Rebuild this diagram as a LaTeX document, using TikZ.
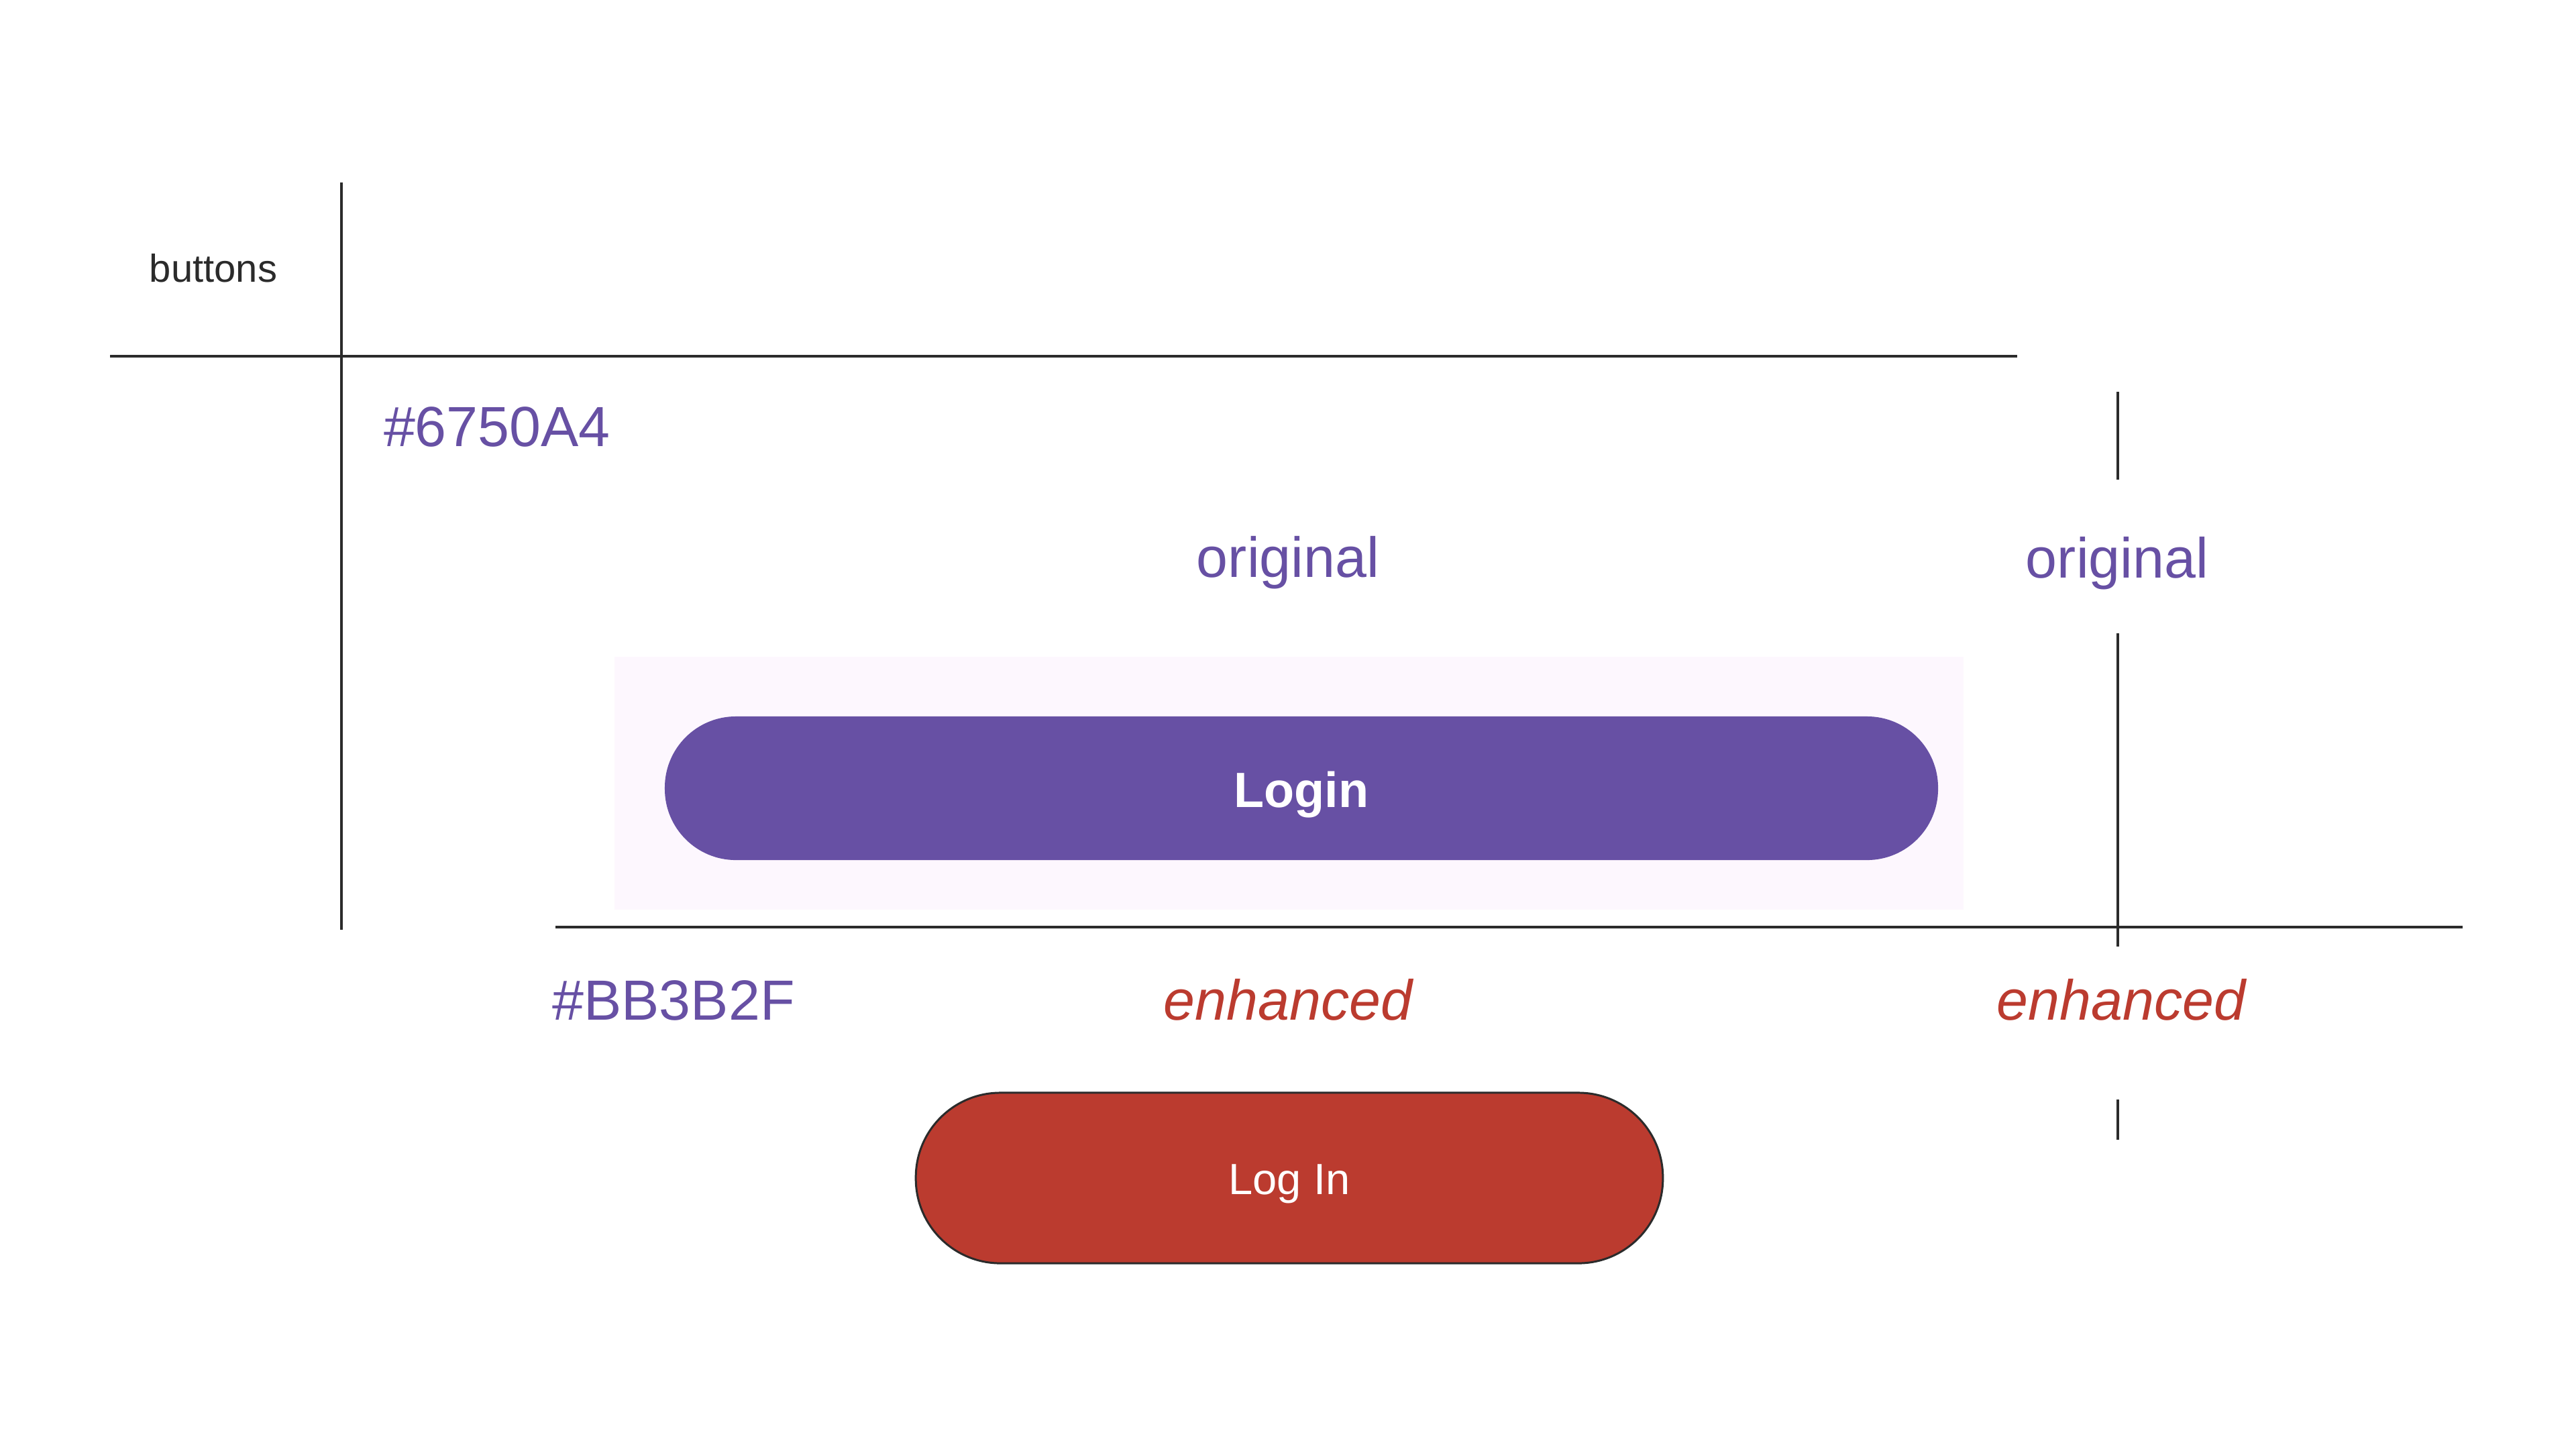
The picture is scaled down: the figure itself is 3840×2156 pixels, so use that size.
\documentclass[tikz,border=0pt]{standalone}
\usepackage{fontspec}
\setmainfont{Liberation Sans}
\definecolor{mpurple}{HTML}{6750A4}
\definecolor{mred}{HTML}{BB3B2F}
\definecolor{ink}{HTML}{2B2B2B}
\definecolor{surface}{HTML}{FDF7FE}
\begin{document}
\begin{tikzpicture}[x=0.01cm,y=-0.01cm,
  rule/.style={draw=ink,line width=1.14pt},
  lbl/.style={inner sep=0pt,anchor=base,font=\fontsize{24pt}{28pt}\selectfont},
  orig/.style={lbl,text=mpurple},
  enh/.style={lbl,text=mred,font=\fontsize{24pt}{28pt}\selectfont\itshape},
  pill/.style={rectangle,inner sep=0pt}]
\useasboundingbox[fill=white] (0,0) rectangle (3840,2156);
% header text
\node[inner sep=0pt,anchor=base,text=ink,font=\fontsize{16.5pt}{20pt}\selectfont] (btn) at (318,420) {buttons};
% rules
\coordinate (v1t) at (509,272); \coordinate (v1b) at (509,1386);
\coordinate (h1l) at (164,531); \coordinate (h1r) at (3007,531);
\coordinate (h2l) at (828,1382); \coordinate (h2r) at (3671,1382);
\coordinate (ta1) at (3157,584); \coordinate (tb1) at (3157,715);
\coordinate (ta2) at (3157,944); \coordinate (tb2) at (3157,1411);
\coordinate (ta3) at (3157,1639); \coordinate (tb3) at (3157,1699);
\draw[rule] (v1t) -- (v1b);
\draw[rule] (h1l) -- (h1r);
\draw[rule] (h2l) -- (h2r);
\draw[rule] (ta1) -- (tb1);
\draw[rule] (ta2) -- (tb2);
\draw[rule] (ta3) -- (tb3);
% colour labels
\node[orig] (c1) at (741,665) {\#6750A4};
\node[orig] (c2) at (1004,1520) {\#BB3B2F};
% original / enhanced labels
\node[orig] (o1) at (1920,860) {original};
\node[orig] (o2) at (3156,861) {original};
\node[enh] (e1) at (1920,1520) {enhanced};
\node[enh] (e2) at (3162,1520) {enhanced};
% original button
\fill[surface] (916,979) rectangle (2927,1356);
\node[pill,fill=mpurple,minimum width=18.97cm,minimum height=2.14cm,rounded corners=1.06cm] (login) at (1940,1175) {};
\node[inner sep=0pt,anchor=base,text=white,font=\fontsize{21pt}{25pt}\selectfont\bfseries] (logintxt) at (1940,1203) {Login};
% enhanced button
\node[pill,fill=mred,draw=ink,line width=0.85pt,minimum width=11.13cm,minimum height=2.54cm,rounded corners=1.26cm] (logn) at (1922,1756) {};
\node[inner sep=0pt,anchor=base,text=white,font=\fontsize{18.5pt}{22pt}\selectfont] (logntxt) at (1922,1780) {Log In};
\end{tikzpicture}
\end{document}
